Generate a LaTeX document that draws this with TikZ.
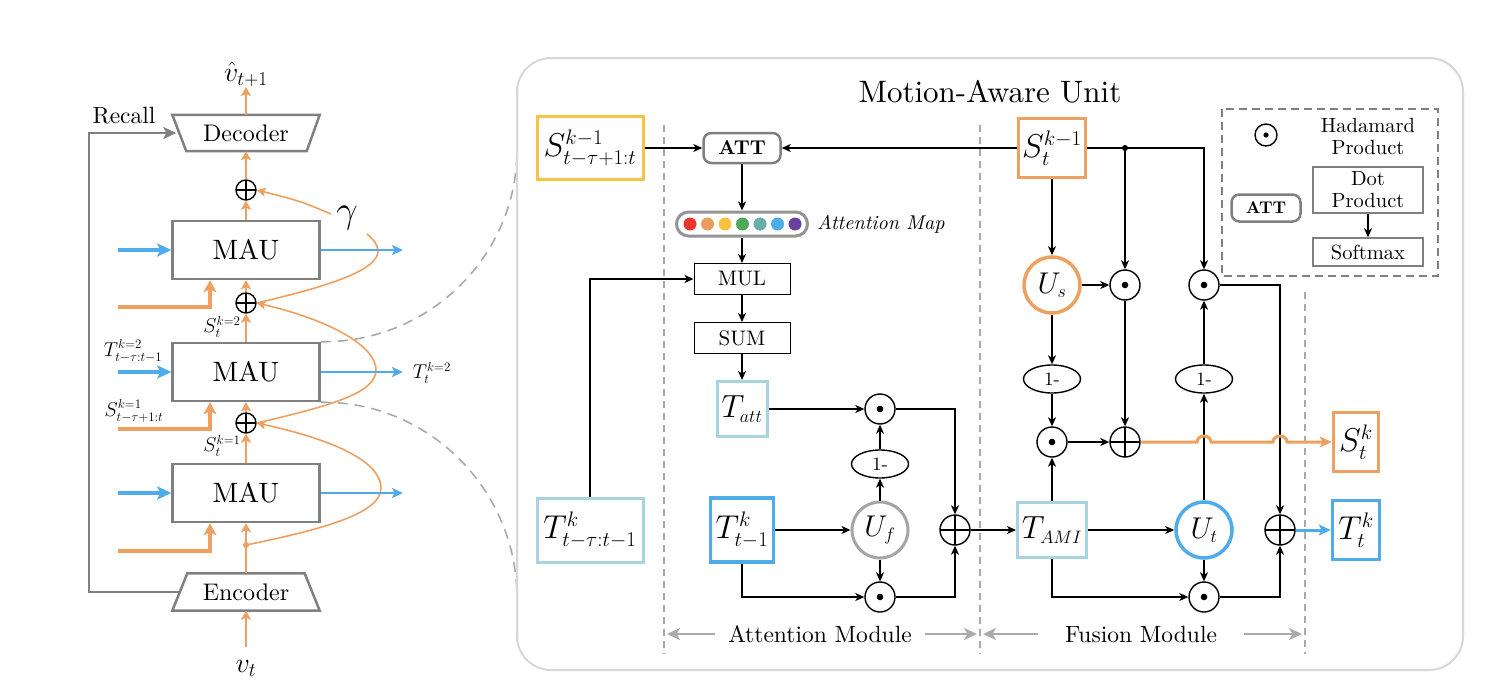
\RequirePackage{fix-cm}
\documentclass[tikz,border=0pt]{standalone}
\usepackage{fontspec}
\setmainfont{lmroman10-regular.otf}[BoldFont=lmroman10-bold.otf, ItalicFont=lmroman10-italic.otf, BoldItalicFont=lmroman10-bolditalic.otf]
\usetikzlibrary{arrows.meta,shapes.geometric,calc}
\DeclareMathSizes{33}{33}{21}{15}
\DeclareMathSizes{30}{30}{18}{13}
\DeclareMathSizes{32}{32}{18}{13}
\DeclareMathSizes{20}{20}{13}{10}
\definecolor{myorange}{RGB}{238,160,96}
\definecolor{myblue}{RGB}{78,172,235}
\definecolor{lblue}{RGB}{168,212,226}
\definecolor{myyellow}{RGB}{246,195,66}
\definecolor{mgray}{RGB}{128,128,128}
\definecolor{ufgray}{RGB}{165,165,165}
\definecolor{dashgray}{RGB}{170,170,170}
\definecolor{panelgray}{RGB}{215,215,215}
\definecolor{cR}{RGB}{232,56,43}
\definecolor{cO}{RGB}{233,157,94}
\definecolor{cY}{RGB}{246,194,67}
\definecolor{cG}{RGB}{78,170,90}
\definecolor{cT}{RGB}{106,174,165}
\definecolor{cB}{RGB}{78,172,235}
\definecolor{cP}{RGB}{106,63,160}
\tikzset{
  fsz/.style={font=\fontsize{#1}{#1}\selectfont},
  tipk/.style={-{Stealth[length=9pt,width=8pt,inset=2.5pt]}},
  blk/.style={draw=black, line width=1.4pt},
  arr/.style={blk, tipk},
  had/.style={circle, draw=black, line width=1.4pt, minimum size=30pt, inner sep=0pt,
    path picture={\fill[black] (path picture bounding box.center) circle[radius=3.3pt];}},
  oplus/.style={circle, draw=black, line width=1.4pt, minimum size=#1, inner sep=0pt,
    path picture={\draw[black,line width=1.4pt] (path picture bounding box.north) -- (path picture bounding box.south) (path picture bounding box.west) -- (path picture bounding box.east);}},
  oplus/.default=30pt,
  onem/.style={ellipse, draw=black, line width=1.4pt, minimum width=57pt, minimum height=28pt, inner sep=0pt, fsz=19},
  bx/.style={draw, rectangle, inner sep=0pt, line width=3pt},
  ucirc/.style={circle, draw, line width=3pt, minimum size=56pt, inner sep=0pt, fsz=30},
  thinbox/.style={draw=black, line width=1pt, rectangle, inner sep=0pt, minimum width=96pt, minimum height=31pt, fsz=21},
  attbox/.style={draw=mgray, line width=2.5pt, rounded corners=8pt, inner sep=0pt, minimum width=77pt, minimum height=30pt, font=\fontsize{20}{20}\selectfont\bfseries},
  mau/.style={draw=mgray, line width=2.5pt, minimum width=147pt, minimum height=58pt, inner sep=0pt, fsz=28},
  trap/.style={draw=mgray, line width=2.5pt, line join=miter},
  oarr/.style={draw=myorange, line width=2pt, -{Stealth[length=9pt,width=10pt,inset=2pt]}},
  oline/.style={draw=myorange, line width=2pt},
  ocurve/.style={draw=myorange, line width=1.6pt},
  othick/.style={draw=myorange, line width=4pt, -{Stealth[length=12pt,width=13pt,inset=3pt]}},
  bthick/.style={draw=myblue, line width=4pt, -{Stealth[length=14pt,width=13pt,inset=3pt]}},
  bthin/.style={draw=myblue, line width=2pt, -{Stealth[length=11pt,width=10pt,inset=2.5pt]}},
  garr/.style={draw=dashgray, line width=2pt, -{Stealth[length=13pt,width=12pt,inset=3.5pt]}},
  gline/.style={draw=mgray, line width=2pt},
  vdash/.style={draw=dashgray, line width=1.5pt, dash pattern=on 7pt off 5pt},
  cdash/.style={draw=dashgray, line width=1.6pt, dash pattern=on 10pt off 7pt},
}
\begin{document}
\begin{tikzpicture}[x=1pt,y=-1pt]
\useasboundingbox (0,0) rectangle (1494,696);
\fill[white] (0,0) rectangle (1494,696);

% ================= LEFT PANEL =================
\node[mau] (mau1) at (246,493) {MAU};
\node[mau] (mau2) at (246,372) {MAU};
\node[mau] (mau3) at (246,250) {MAU};
\node[oplus=20pt] (p1) at (246,423) {};
\node[oplus=20pt] (p2) at (246,303) {};
\node[oplus=20pt] (p3) at (246,190) {};
\node[inner sep=0pt, minimum width=147pt, minimum height=36pt, fsz=24] (dec) at (246,133) {Decoder};
\draw[trap] (dec.north west) -- (dec.north east) -- ($(dec.south east)+(-13,0)$) -- ($(dec.south west)+(14,0)$) -- cycle;
\node[inner sep=0pt, minimum width=147pt, minimum height=37pt, fsz=24] (enc) at (246,592) {Encoder};
\draw[trap] ($(enc.north west)+(15,0)$) -- ($(enc.north east)+(-15,0)$) -- (enc.south east) -- (enc.south west) -- cycle;
\node[fsz=28, anchor=south, inner sep=0pt] (vhat) at (246,87) {$\hat{v}_{t+1}$};
\node[fsz=28, anchor=north, inner sep=0pt] (vt) at (246,660) {$v_t$};
\coordinate (edot) at (246,545);

% orange trunk
\draw[oarr] ($(vt.north)+(0,-13)$) -- (enc.south);
\draw[oline] (enc.north) -- (edot);
\fill[myorange] (edot) circle[radius=3pt];
\draw[oarr] (edot) -- (mau1.south);
\draw[oarr] (mau1.north) -- (p1.south);
\draw[oarr] (p1.north) -- (mau2.south);
\draw[oarr] (mau2.north) -- (p2.south);
\draw[oarr] (p2.north) -- (mau3.south);
\draw[oarr] (mau3.north) -- (p3.south);
\draw[oarr] (p3.north) -- (dec.south);
\draw[oarr] (dec.north) -- (vhat.south);

% skip curves
\draw[ocurve, -{Stealth[length=9pt,width=9pt,inset=2pt]}] (edot) .. controls (330,528) and (381,512) .. (381,488) .. controls (381,462) and (335,440) .. (p1.east);
\draw[ocurve, -{Stealth[length=9pt,width=9pt,inset=2pt]}] (p1.east) .. controls (335,405) and (376,392) .. (376,370) .. controls (376,346) and (330,320) .. (p2.east);
\draw[ocurve] (p2.east) .. controls (330,286) and (378,270) .. (378,251) .. controls (378,244) and (372,238) .. (367,234);
\coordinate (gend) at (331,214);
\draw[ocurve, -{Stealth[length=9pt,width=9pt,inset=2pt]}] (gend) .. controls (300,201) .. (p3.east);
\node[fsz=38, inner sep=0pt] (gam) at (347,218) {$\gamma$};

% inputs / outputs
\foreach \m/\y in {mau1/493, mau2/372, mau3/250}{
  \coordinate (bin-\m) at (118,\y);
  \coordinate (bout-\m) at (403,\y);
  \draw[bthick] (bin-\m) -- (\m.west);
  \draw[bthin] (\m.east) -- (bout-\m);
}
\foreach \m/\y in {mau1/551, mau2/429, mau3/307}{
  \coordinate (oin-\m) at (118,\y);
  \draw[othick] (oin-\m) -| ($(\m.south)+(-36,0)$);
}

% labels
\node[fsz=20, inner sep=0pt] (lS2) at (222,327) {$S^{k=2}_t$};
\node[fsz=20, inner sep=0pt] (lS1) at (222,446) {$S^{k=1}_t$};
\node[fsz=20, inner sep=0pt] (lT2) at (133,351) {$T^{k=2}_{t-\tau:t-1}$};
\node[fsz=20, inner sep=0pt] (lS1b) at (134,411) {$S^{k=1}_{t-\tau+1:t}$};
\node[fsz=20, inner sep=0pt] (lTo) at (432,373) {$T^{k=2}_t$};
\node[fsz=23.5, inner sep=0pt] (recall) at (124,116) {Recall};

% recall loop
\coordinate (rc) at (89,592);
\draw[gline, -{Stealth[length=13pt,width=12pt,inset=3pt]}] ($(enc.west)+(7,0)$) -- (rc) |- ($(dec.west)+(4,0)$);

% dashed connectors
\draw[cdash] (mau2.north east) .. controls (429,343) and (517,256) .. (517,150);
\draw[cdash] (mau2.south east) .. controls (429,401) and (517,490) .. (517,598);

% ================= RIGHT PANEL =================
\draw[panelgray, line width=2pt, rounded corners=34pt] (517,58) rectangle (1463,670);
\node[fsz=31] (title) at (990,92) {Motion-Aware Unit};

\draw[vdash] (664,125) -- (664,654);
\draw[vdash] (980,125) -- (980,654);
\draw[vdash] (1305,292) -- (1305,654);

% attention module
\node[bx, draw=myyellow, minimum width=106pt, minimum height=63pt, fsz=33] (syb) at (590,148) {$S^{k-1}_{t-\tau+1:t}$};
\node[attbox] (att) at (742,148) {ATT};
\node[draw=ufgray!90!black, line width=3pt, rounded corners=12pt, minimum width=131pt, minimum height=24pt, inner sep=0pt] (amap) at (742,224) {};
\foreach \c [count=\i from 0] in {cR,cO,cY,cG,cT,cB,cP}
  \fill[\c] (690+17.5*\i,224) circle[radius=6.5pt];
\node[font=\fontsize{20}{20}\selectfont\itshape, anchor=west, inner sep=0pt] (amaplab) at (817,224) {Attention Map};
\node[thinbox] (mul) at (742,279) {MUL};
\node[thinbox] (sum) at (742,338) {SUM};
\node[bx, draw=lblue, minimum width=50pt, minimum height=55pt, fsz=32] (tatt) at (742,409) {$T_{att}$};
\node[bx, draw=lblue, minimum width=106pt, minimum height=64pt, fsz=33] (ttau) at (590,530) {$T^{k}_{t-\tau:t-1}$};
\node[bx, draw=myblue, line width=3.5pt, minimum width=63pt, minimum height=64pt, fsz=33] (tk1) at (742,530) {$T^{k}_{t-1}$};
\node[had] (had1) at (880,409) {};
\node[onem] (om1) at (880,464) {1-};
\node[ucirc, draw=ufgray] (uf) at (880,530) {$U_f$};
\node[had] (had2) at (880,597) {};
\node[oplus] (plus1) at (955,530) {};

\draw[arr] (syb) -- (att);
\draw[arr] (att) -- (amap);
\draw[arr] (amap) -- (mul);
\draw[arr] (mul) -- (sum);
\draw[arr] (sum) -- (tatt);
\draw[arr] (ttau.north) |- (mul.west);
\draw[arr] (tatt) -- (had1);
\draw[arr] (had1.east) -| (plus1.north);
\draw[arr] (tk1) -- (uf);
\draw[arr] (uf) -- (om1);
\draw[arr] (om1) -- (had1);
\draw[arr] (uf) -- (had2);
\draw[arr] (tk1.south) |- (had2.west);
\draw[arr] (had2.east) -| (plus1.south);

% fusion module
\node[bx, draw=myorange, line width=3.5pt, minimum width=67pt, minimum height=59pt, fsz=33] (so) at (1052,148) {$S^{k-1}_{t}$};
\node[ucirc, draw=myorange, line width=3.5pt] (us) at (1052,285) {$U_s$};
\node[had] (hA) at (1125,285) {};
\node[had] (hB) at (1204,285) {};
\node[onem] (om2) at (1052,379) {1-};
\node[onem] (om3) at (1204,379) {1-};
\node[had] (hC) at (1052,442) {};
\node[oplus] (plus2) at (1125,442) {};
\node[bx, draw=lblue, minimum width=69pt, minimum height=55pt, fsz=32] (tami) at (1052,530) {$T_{AMI}$};
\node[ucirc, draw=myblue, line width=3.5pt] (ut) at (1204,530) {$U_t$};
\node[had] (hD) at (1204,597) {};
\node[oplus] (plus3) at (1280,530) {};
\node[bx, draw=myorange, line width=3.5pt, minimum width=45pt, minimum height=59pt, fsz=33] (stk) at (1356,442) {$S^{k}_{t}$};
\node[bx, draw=myblue, line width=3.5pt, minimum width=47pt, minimum height=59pt, fsz=33] (ttk) at (1356,530) {$T^{k}_{t}$};
\coordinate (bdot) at (1125,148);

\draw[arr] (so.west) -- (att.east);
\draw[arr] (so.east) -| (hB.north);
\fill (bdot) circle[radius=3pt];
\draw[arr] (bdot) -- (hA.north);
\draw[arr] (so) -- (us);
\draw[arr] (us) -- (hA);
\draw[arr] (us) -- (om2);
\draw[arr] (om2) -- (hC);
\draw[arr] (hC) -- (plus2);
\draw[arr] (hA) -- (plus2);
\draw[arr] (plus1) -- (tami);
\draw[arr] (tami) -- (hC);
\draw[arr] (tami) -- (ut);
\draw[arr] (ut) -- (om3);
\draw[arr] (om3) -- (hB);
\draw[arr] (ut) -- (hD);
\draw[arr] (tami.south) |- (hD.west);
\draw[arr] (hB.east) -| (plus3.north);
\draw[arr] (hD.east) -| (plus3.south);
\draw[draw=myorange, line width=3pt, -{Stealth[length=12pt,width=11pt,inset=3pt]}]
  (plus2.east) -- ($(hB |- plus2)+(-7,0)$) arc[start angle=180,end angle=0,x radius=7pt,y radius=6pt]
  -- ($(plus3 |- plus2)+(-7,0)$) arc[start angle=180,end angle=0,x radius=7pt,y radius=6pt]
  -- (stk.west);
\draw[draw=myblue, line width=3pt, -{Stealth[length=12pt,width=11pt,inset=3pt]}] (plus3) -- (ttk);

% module labels
\node[fsz=23.5] (attlab) at (820,634) {Attention Module};
\node[fsz=23.5] (fuslab) at (1141,634) {Fusion Module};
\coordinate (d1) at (667,634);
\coordinate (d2) at (977,634);
\coordinate (d3) at (983,634);
\coordinate (d4) at (1302,634);
\draw[garr] ($(attlab.west)+(-10,0)$) -- (d1);
\draw[garr] ($(attlab.east)+(10,0)$) -- (d2);
\draw[garr] ($(fuslab.west)+(-24,0)$) -- (d3);
\draw[garr] ($(fuslab.east)+(23,0)$) -- (d4);

% legend
\draw[draw=mgray, line width=1.5pt, dash pattern=on 8pt off 5pt] (1222,109) rectangle (1438,276);
\node[circle, draw=black, line width=1.4pt, minimum size=22pt, inner sep=0pt,
  path picture={\fill[black] (path picture bounding box.center) circle[radius=2.6pt];}] (hleg) at (1266,135) {};
\node[font=\fontsize{20.5}{22}\selectfont, align=center, inner sep=0pt] (hlegt) at (1368,136) {Hadamard\\Product};
\node[attbox, minimum width=69pt, minimum height=27pt, font=\fontsize{17}{17}\selectfont\bfseries] (attleg) at (1266,208) {ATT};
\node[draw=mgray, line width=1.5pt, minimum width=110pt, minimum height=46pt, inner sep=0pt, align=center, font=\fontsize{20.5}{22}\selectfont] (dotp) at (1368,190) {Dot\\Product};
\node[draw=mgray, line width=1.5pt, minimum width=110pt, minimum height=28pt, inner sep=0pt, font=\fontsize{20.5}{20.5}\selectfont] (softm) at (1368,252) {Softmax};
\draw[arr] (dotp) -- (softm);
\end{tikzpicture}
\end{document}
